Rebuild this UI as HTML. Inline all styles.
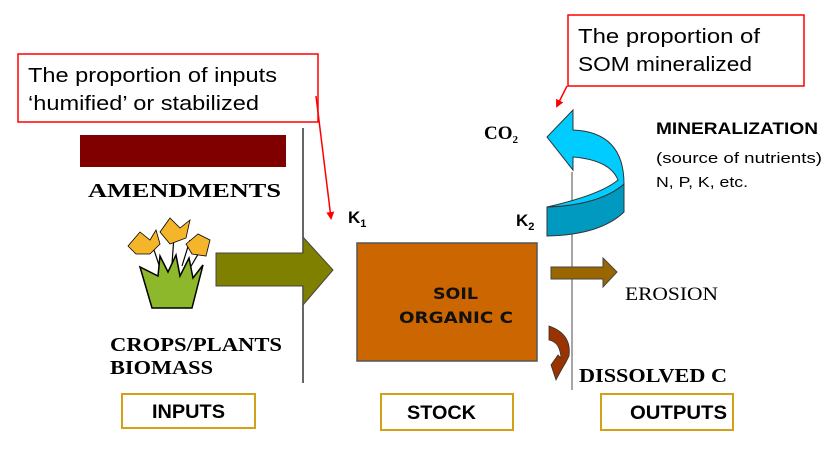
<!DOCTYPE html>
<html><head><meta charset="utf-8"><style>
html,body{margin:0;padding:0;background:#fff;width:831px;height:456px;overflow:hidden}
</style></head><body>
<svg width="831" height="456" viewBox="0 0 831 456" xmlns="http://www.w3.org/2000/svg">
<defs>
<marker id="rh" markerWidth="8" markerHeight="8" refX="6" refY="4" orient="auto" markerUnits="userSpaceOnUse"><path d="M0,0 L8,4 L0,8 Z" fill="#ff0000"/></marker>
</defs>
<rect x="18" y="54" width="300" height="68" fill="#fff" stroke="#ff0000" stroke-width="1.5"/>
<text x="28" y="82" font-family="Liberation Sans, sans-serif" font-size="20" textLength="249" lengthAdjust="spacingAndGlyphs">The proportion of inputs</text>
<text x="28" y="110" font-family="Liberation Sans, sans-serif" font-size="20" textLength="231" lengthAdjust="spacingAndGlyphs">‘humified’ or stabilized</text>
<line x1="316" y1="96" x2="331" y2="218" stroke="#ff0000" stroke-width="1.5" marker-end="url(#rh)"/>
<rect x="568" y="15" width="236" height="71" fill="#fff" stroke="#ff0000" stroke-width="1.5"/>
<text x="578" y="43" font-family="Liberation Sans, sans-serif" font-size="20" textLength="182" lengthAdjust="spacingAndGlyphs">The proportion of</text>
<text x="578" y="71" font-family="Liberation Sans, sans-serif" font-size="20" textLength="174" lengthAdjust="spacingAndGlyphs">SOM mineralized</text>
<line x1="567" y1="86" x2="557" y2="106" stroke="#ff0000" stroke-width="1.5" marker-end="url(#rh)"/>
<rect x="80" y="135" width="206" height="32" fill="#800000"/>
<text x="88" y="197" font-family="Liberation Serif, serif" font-weight="bold" font-size="20" textLength="193" lengthAdjust="spacingAndGlyphs">AMENDMENTS</text>
<line x1="303" y1="128" x2="303" y2="383" stroke="#333" stroke-width="1.5"/>
<line x1="572" y1="172" x2="572" y2="390" stroke="#888" stroke-width="1.5"/>
<g stroke="#000" stroke-width="1.2" fill="none"><path d="M160,268 L152,244"/><path d="M172,264 L174,236"/><path d="M182,266 L190,240"/><path d="M190,268 L204,244"/></g>
<path d="M140,267 L152,308 L192,308 L203,265 L193,278 L189,258 L180,276 L176,255 L168,272 L160,256 L158,276 Z" fill="#8db82c" stroke="#000" stroke-width="1.5"/>
<g fill="#f5b52a" stroke="#000" stroke-width="0.8">
<path d="M128,246 L140,232 L150,240 L156,230 L160,244 L150,254 L136,254 Z"/>
<path d="M160,232 L170,218 L180,228 L190,220 L186,238 L170,244 Z"/>
<path d="M186,244 L198,234 L210,240 L206,256 L192,254 Z"/>
</g>
<path d="M216,253 L303,253 L303,237 L333,270 L303,305 L303,286 L216,286 Z" fill="#808000" stroke="#444" stroke-width="1"/>
<text x="110" y="351" font-family="Liberation Serif, serif" font-weight="bold" font-size="20" textLength="172" lengthAdjust="spacingAndGlyphs">CROPS/PLANTS</text>
<text x="110" y="374" font-family="Liberation Serif, serif" font-weight="bold" font-size="20" textLength="103" lengthAdjust="spacingAndGlyphs">BIOMASS</text>
<text x="348" y="223" font-family="Liberation Sans, sans-serif" font-weight="bold" font-size="17">K<tspan font-size="11" dy="4">1</tspan></text>
<text x="516" y="226" font-family="Liberation Sans, sans-serif" font-weight="bold" font-size="17">K<tspan font-size="11" dy="4">2</tspan></text>
<rect x="357" y="243" width="180" height="118" fill="#cc6600" stroke="#555" stroke-width="1.5"/>
<text x="433" y="299" font-family="DejaVu Sans, sans-serif" font-weight="bold" font-size="16" fill="#111" textLength="45" lengthAdjust="spacingAndGlyphs">SOIL</text>
<text x="399" y="323" font-family="DejaVu Sans, sans-serif" font-weight="bold" font-size="16" fill="#111" textLength="114" lengthAdjust="spacingAndGlyphs">ORGANIC C</text>
<path d="M547,207 Q600,205 624,184 L624,212 Q600,235 547,236 Z" fill="#0099c0" stroke="#333" stroke-width="1"/>
<path d="M573,130 Q624,132 624,184 Q600,205 547,207 L547,207 Q600,195 618,180 Q610,160 573,157 L573,170 L547,137 L573,110 Z" fill="#00ccff" stroke="#333" stroke-width="1"/>
<text x="484" y="139" font-family="Liberation Serif, serif" font-weight="bold" font-size="19">CO<tspan font-size="11" dy="4">2</tspan></text>
<text x="656" y="134" font-family="Liberation Sans, sans-serif" font-weight="bold" font-size="17" textLength="162" lengthAdjust="spacingAndGlyphs">MINERALIZATION</text>
<text x="656" y="163" font-family="Liberation Sans, sans-serif" font-size="15" textLength="166" lengthAdjust="spacingAndGlyphs">(source of nutrients)</text>
<text x="656" y="187" font-family="Liberation Sans, sans-serif" font-size="15" textLength="92" lengthAdjust="spacingAndGlyphs">N, P, K, etc.</text>
<path d="M551,267 L603,267 L603,258 L617,272 L603,287 L603,279 L551,279 Z" fill="#996600" stroke="#444" stroke-width="1"/>
<text x="625" y="300" font-family="Liberation Serif, serif" font-size="19" textLength="93" lengthAdjust="spacingAndGlyphs">EROSION</text>
<path d="M549,326 Q572,334 569,356 L566,362 Q560,372 556,380 L551,365 L558,355 L561,358 Q560,342 549,340 Z" fill="#993300" stroke="#333" stroke-width="0.8"/>
<text x="579" y="382" font-family="Liberation Serif, serif" font-weight="bold" font-size="20" textLength="148" lengthAdjust="spacingAndGlyphs">DISSOLVED C</text>
<g font-family="Liberation Sans, sans-serif" font-weight="bold" font-size="19">
<rect x="122" y="394" width="133" height="34" fill="#fff" stroke="#d4a017" stroke-width="2"/>
<text x="152" y="418" textLength="73" lengthAdjust="spacingAndGlyphs">INPUTS</text>
<rect x="381" y="394" width="132" height="36" fill="#fff" stroke="#d4a017" stroke-width="2"/>
<text x="407" y="419" textLength="69" lengthAdjust="spacingAndGlyphs">STOCK</text>
<rect x="601" y="394" width="132" height="36" fill="#fff" stroke="#d4a017" stroke-width="2"/>
<text x="630" y="419" textLength="97" lengthAdjust="spacingAndGlyphs">OUTPUTS</text>
</g>
</svg>
</body></html>
